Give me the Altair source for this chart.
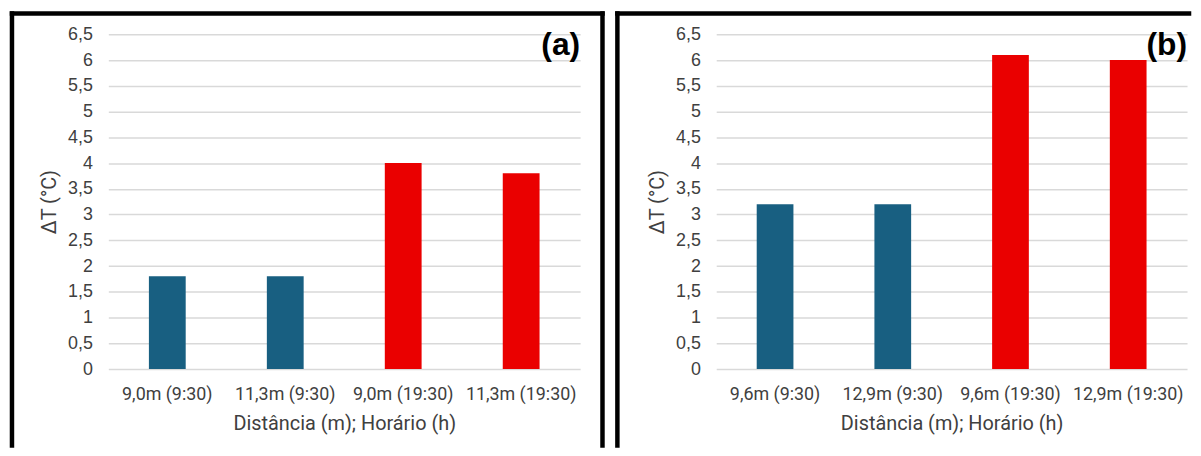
import altair as alt
import pandas as pd

# ---- data ----
labels_a = ["9,0m (9:30)", "11,3m (9:30)", "9,0m (19:30)", "11,3m (19:30)"]
values_a = [1.8, 1.8, 4.0, 3.8]
labels_b = ["9,6m (9:30)", "12,9m (9:30)", "9,6m (19:30)", "12,9m (19:30)"]
values_b = [3.2, 3.2, 6.1, 6.0]
colors = ["#185F81", "#185F81", "#EA0000", "#EA0000"]
y_ticks = [0, 0.5, 1, 1.5, 2, 2.5, 3, 3.5, 4, 4.5, 5, 5.5, 6, 6.5]

H = 337
TXT = "#404040"


def panel(labels, values, tag, width, bl, br, top_end):
    df = pd.DataFrame({"cat": labels, "val": values, "col": colors})
    one = pd.DataFrame({"k": [0]})
    bars = alt.Chart(df).mark_bar().encode(
        x=alt.X(
            "cat:N",
            sort=labels,
            scale=alt.Scale(paddingInner=0.688, paddingOuter=0.344),
            axis=alt.Axis(
                title="Distância (m); Horário (h)",
                labelAngle=0,
                labelFont="Roboto",
                labelFontSize=18,
                labelColor=TXT,
                labelPadding=17,
                titleFont="Roboto",
                titleFontSize=20,
                titleFontWeight="normal",
                titleColor=TXT,
                titlePadding=10,
                domain=False,
                ticks=False,
            ),
        ),
        y=alt.Y(
            "val:Q",
            scale=alt.Scale(domain=[0, 6.5], nice=False),
            axis=alt.Axis(
                title="ΔT (°C)",
                values=y_ticks,
                labelExpr="replace(format(datum.value, '.1~f'), '.', ',')",
                labelFont="Liberation Sans",
                labelFontSize=18,
                labelColor=TXT,
                labelPadding=16,
                titleFont="Roboto",
                titleFontSize=20,
                titleFontWeight="normal",
                titleColor=TXT,
                titlePadding=8,
                domain=False,
                ticks=False,
                gridColor="#D9D9D9",
                gridWidth=1.5,
            ),
        ),
        color=alt.Color("col:N", scale=None),
    )
    rule_kw = dict(color="black", strokeWidth=4.5, strokeCap="square")
    rules = [
        alt.Chart(one).mark_rule(**rule_kw).encode(
            x=alt.value(bl), x2=alt.value(top_end), y=alt.value(-21)
        ),
        alt.Chart(one).mark_rule(**rule_kw).encode(
            x=alt.value(bl), y=alt.value(-21), y2=alt.value(414)
        ),
    ]
    if br is not None:
        rules.append(
            alt.Chart(one).mark_rule(**rule_kw).encode(
                x=alt.value(br), y=alt.value(-21), y2=alt.value(414)
            )
        )
    label = alt.Chart(one).mark_text(
        font="Liberation Sans", fontSize=32, fontWeight="bold", align="right",
        baseline="alphabetic", color="black"
    ).encode(x=alt.value(width), y=alt.value(21), text=alt.value(tag))
    return alt.layer(bars, label, *rules).properties(width=width, height=H)


left = panel(labels_a, values_a, "(a)", 475, -97, 497.5, 497.5)
right = panel(labels_b, values_b, "(b)", 474, -99.5, None, 476)

chart = alt.hconcat(left, right, spacing=8).properties(
    padding={"left": 0, "top": 0, "right": 0, "bottom": 0}
).configure_view(stroke=None)

chart.save("out.html", embed_options={"renderer": "svg", "actions": False})
